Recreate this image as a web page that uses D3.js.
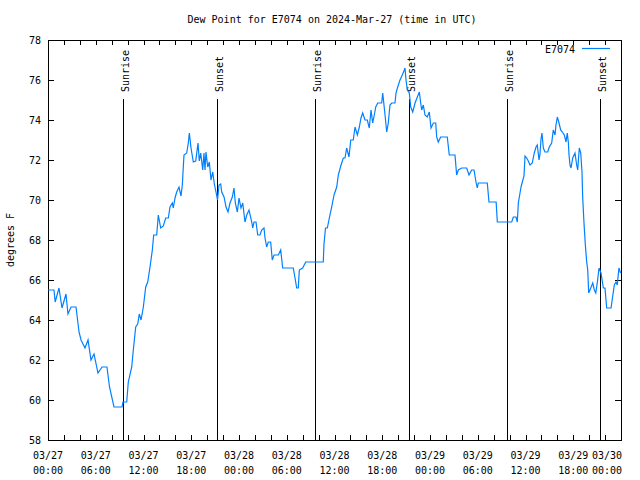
<!DOCTYPE html>
<html><head><meta charset="utf-8">
<script src="https://cdn.jsdelivr.net/npm/d3@7"></script>
<style>body{margin:0;background:#fff}svg{display:block}text{font-family:"DejaVu Sans Mono",monospace;font-size:10px;fill:#000}</style>
</head><body><svg id="c" width="640" height="480"></svg>
<script>
const title = "Dew Point for E7074 on 2024-Mar-27 (time in UTC)";
const seriesName = "E7074";
const yLabel = "degrees F";
const yTicks = [58,60,62,64,66,68,70,72,74,76,78];
// hours since 2024-03-27 00:00 UTC
const hours = [0,0.75,0.9,1.38,1.76,2.26,2.51,2.89,3.52,3.9,4.15,4.65,5.03,5.4,5.78,6.28,6.79,7.41,7.73,8.29,9.3,9.42,9.89,10.09,10.52,10.72,11.02,11.27,11.47,11.69,11.98,12.28,12.53,12.82,13.11,13.28,13.66,13.86,14.16,14.49,14.79,15.12,15.33,15.62,15.74,15.96,16.17,16.46,16.71,16.88,17.0,17.09,17.43,17.63,17.76,17.97,18.26,18.56,18.69,18.85,19.01,19.19,19.44,19.6,19.73,19.85,20.07,20.27,20.48,20.7,20.9,21.11,21.3,21.49,21.7,21.83,22.12,22.37,22.62,22.87,23.16,23.37,23.54,23.79,24.0,24.25,24.47,24.75,24.97,25.26,25.6,25.72,25.89,26.14,26.35,26.64,26.85,27.14,27.27,27.48,27.68,27.98,28.18,28.4,28.94,29.24,29.49,30.82,31.04,31.25,31.45,31.58,32.0,32.38,34.59,34.68,34.87,35.1,35.35,35.65,35.94,36.28,36.48,36.82,37.11,37.32,37.53,37.82,38.04,38.36,38.58,38.87,39.12,39.33,39.54,39.83,40.12,40.37,40.59,40.8,41.0,41.18,41.43,41.93,42.06,42.35,42.56,42.76,42.97,43.19,43.6,43.73,43.94,44.23,44.52,44.77,44.86,44.99,45.15,45.4,45.58,45.83,46.12,46.41,46.66,46.83,46.96,47.16,47.37,47.66,47.91,48.13,48.42,48.72,48.84,49.04,49.34,50.17,50.42,51.14,51.35,51.56,51.98,52.61,52.9,53.24,53.53,53.78,53.94,54.07,55.2,55.41,56.31,56.46,58.27,58.47,58.81,58.97,59.1,59.31,59.44,59.6,59.81,59.94,60.15,60.35,60.57,60.85,61.1,61.32,61.48,61.7,61.82,61.95,62.07,62.24,62.45,62.79,62.99,63.29,63.49,63.71,63.83,64.0,64.21,64.42,64.63,64.88,65.09,65.25,65.38,65.47,65.59,65.72,65.93,66.22,66.43,66.56,66.76,66.94,67.1,67.19,67.35,67.52,67.69,67.82,67.94,68.2,68.45,68.65,68.83,69.03,69.24,69.49,69.78,69.99,70.2,70.75,70.96,71.16,71.37,71.53,71.74,71.95];
const dewPoint = [65.5,65.5,64.9,65.6,64.6,65.3,64.3,64.65,64.65,63.4,63.0,62.6,63.0,62.0,62.3,61.35,61.65,61.65,60.65,59.65,59.65,59.9,59.9,60.9,61.65,62.5,63.65,63.8,64.3,64.0,64.65,65.65,65.9,66.65,67.5,68.25,68.25,69.25,68.6,68.7,69.1,69.1,69.65,69.85,69.6,70.1,70.4,70.65,70.2,70.75,71.65,72.25,72.35,72.85,73.35,72.6,71.9,71.95,72.35,72.85,71.95,72.35,71.5,72.35,71.5,72.4,71.65,71.9,71.0,71.4,70.8,70.4,70.0,70.75,70.8,70.4,70.15,69.65,69.4,69.85,70.15,70.6,69.85,69.4,70.1,69.6,69.85,68.9,69.25,69.5,68.9,68.6,68.9,68.9,68.25,68.25,68.5,68.6,68.1,67.65,67.9,67.9,67.0,67.25,67.25,67.5,66.6,66.6,66.1,65.6,65.6,66.5,66.6,66.9,66.9,67.8,68.6,68.6,69.1,69.65,70.25,70.65,71.25,71.75,72.1,72.1,72.6,72.15,73.0,73.0,73.65,73.25,73.65,74.1,74.35,74.0,74.0,73.6,74.5,73.85,74.25,74.65,74.85,74.85,75.35,74.25,73.4,73.85,74.75,74.85,74.85,75.35,75.65,76.0,76.25,76.5,76.6,76.0,75.5,75.35,74.65,74.4,74.85,75.15,75.4,74.85,74.5,74.75,74.25,74.15,74.4,73.6,73.85,73.85,73.15,72.9,73.15,73.15,72.25,72.25,71.25,71.5,71.6,71.6,71.25,71.5,71.5,70.9,70.6,70.85,70.85,69.9,69.9,68.9,68.9,69.15,69.15,68.9,69.85,70.35,70.65,70.9,71.2,72.2,72.1,71.95,71.75,71.85,72.35,72.65,72.75,72.0,72.3,73.05,73.35,72.6,72.4,72.4,72.65,72.85,73.5,73.25,73.75,74.15,73.85,73.5,73.4,73.25,72.9,73.35,72.9,72.25,71.75,71.6,72.1,72.35,71.75,71.5,72.6,72.35,71.4,70.1,68.85,67.75,66.9,66.5,65.35,65.6,65.85,65.5,65.35,65.9,66.6,66.35,65.6,65.6,64.6,64.6,65.2,65.75,65.9,65.75,66.6,66.35];
const sunEvents = ["Sunrise","Sunset","Sunrise","Sunset","Sunrise","Sunset"];
const sunHours = [9.46,21.27,33.59,45.40,57.71,69.36];

const t0 = Date.UTC(2024,2,27);
const toDate = h => new Date(t0 + h*3600e3);
const data = hours.map((h,i)=>({t:toDate(h), v:dewPoint[i]}));

const L=48, R=621, T=40, B=440;
const svg = d3.select("#c");
const x = d3.scaleUtc().domain([toDate(0), toDate(72)]).range([L,R]);
const y = d3.scaleLinear().domain([58,78]).range([B,T]);

// title
svg.append("text").attr("x",332).attr("y",23).attr("text-anchor","middle").text(title);
// y label
svg.append("text").attr("transform","translate(14,240) rotate(-90)").attr("text-anchor","middle").text(yLabel);

const g = svg.append("g").attr("shape-rendering","crispEdges");
// y ticks
yTicks.forEach(v=>{
  const yy = Math.round(y(v))+0.5;
  g.append("line").attr("x1",L).attr("x2",L+6).attr("y1",yy).attr("y2",yy).attr("stroke","#000");
  g.append("line").attr("x1",R-6).attr("x2",R).attr("y1",yy).attr("y2",yy).attr("stroke","#000");
  svg.append("text").attr("x",41).attr("y",y(v)+4).attr("text-anchor","end").text(v);
});
// x ticks every 2h
const minor = d3.utcHour.every(2).range(toDate(0), toDate(72.01));
minor.forEach(d=>{
  const xx = Math.round(x(d))+0.5;
  g.append("line").attr("x1",xx).attr("x2",xx).attr("y1",B).attr("y2",B-5).attr("stroke","#000");
  g.append("line").attr("x1",xx).attr("x2",xx).attr("y1",T).attr("y2",T+5).attr("stroke","#000");
});
const major = d3.utcHour.every(6).range(toDate(0), toDate(72.01));
const fD = d3.utcFormat("%m/%d"), fH = d3.utcFormat("%H:%M");
major.forEach((d,i)=>{
  const last = i===major.length-1;
  const t = svg.append("text").attr("text-anchor", last?"end":"middle");
  const xx = last ? 622 : x(d);
  t.append("tspan").attr("x",xx).attr("y",459).text(fD(d));
  t.append("tspan").attr("x",xx).attr("y",474).text(fH(d));
});
// frame
g.append("rect").attr("x",L+0.5).attr("y",T+0.5).attr("width",R-L).attr("height",B-T).attr("fill","none").attr("stroke","#000");

// sun lines
sunHours.forEach((h,i)=>{
  const xx = Math.round(x(toDate(h)))+0.5;
  g.append("line").attr("x1",xx).attr("x2",xx).attr("y1",99).attr("y2",B).attr("stroke","#000");
  svg.append("text").attr("transform",`translate(${xx+5},92) rotate(-90)`).attr("text-anchor","start").text(sunEvents[i]);
});

// data line
const line = d3.line().x(d=>x(d.t)).y(d=>y(d.v));
svg.append("path").datum(data).attr("d",line).attr("fill","none").attr("stroke","#0080ff").attr("stroke-width",1.2);

// legend
svg.append("text").attr("x",575).attr("y",53).attr("text-anchor","end").text(seriesName);
svg.append("line").attr("x1",582).attr("x2",610).attr("y1",48.5).attr("y2",48.5).attr("stroke","#0080ff").attr("stroke-width",1.2);
</script></body></html>
